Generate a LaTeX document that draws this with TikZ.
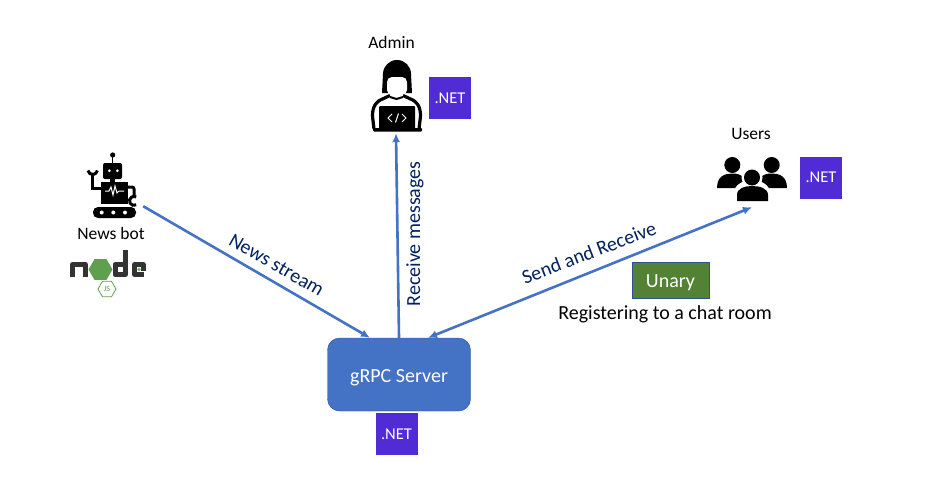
\documentclass[tikz,border=0pt]{standalone}
\usepackage{fontspec}
\setmainfont{Carlito}
\usepackage{xcolor}
\usetikzlibrary{arrows.meta,positioning,shapes.geometric}
\definecolor{flowblue}{HTML}{4472C4}
\definecolor{edgeblue}{HTML}{2F528F}
\definecolor{dotnet}{HTML}{512BD4}
\definecolor{labelnavy}{HTML}{002060}
\definecolor{unarygreen}{HTML}{548235}
\definecolor{nodegrey}{HTML}{333333}
\definecolor{nodegreen}{HTML}{5FA04E}

\begin{document}
\begin{tikzpicture}[
  x=1pt, y=-1pt,
  font=\fontsize{17.5}{19}\selectfont,
  server/.style={draw=edgeblue, fill=flowblue, rounded corners=12pt, text=white, minimum width=143pt, minimum height=73pt, inner sep=0pt, text height=15pt, text depth=0pt, font=\fontsize{20}{22}\selectfont},
  netbox/.style={fill=dotnet, text=white, minimum size=42pt, inner sep=0pt, font=\fontsize{16.5}{18}\selectfont},
  unary/.style={draw=edgeblue, fill=unarygreen, text=white, minimum width=77pt, minimum height=36pt, inner sep=0pt, text height=15pt, text depth=0pt, font=\fontsize{20}{22}\selectfont},
  icon/.style={minimum width=#1, inner sep=0pt},
  flow/.style={text=labelnavy, inner sep=0pt, font=\fontsize{20}{22}\selectfont},
  arrow/.style={-{Latex[length=9pt,width=8pt]}, line width=2.6pt, draw=flowblue}
]
  \useasboundingbox (0,0) rectangle (928,482);

  % main boxes
  \node[server] (grpc) at (399,374.5) {gRPC Server};
  \node[netbox] (netgrpc) at (396.5,434) {.NET};
  \node[netbox] (netadmin) at (450,98) {.NET};
  \node[netbox] (netusers) at (821,177.5) {.NET};
  \node[unary] (unarybox) at (670.5,280) {Unary};
  \node[inner sep=0pt, font=\fontsize{20}{22}\selectfont] (register) at (665,314) {Registering to a chat room};

  % anchors for the icons
  \node[icon=54pt, minimum height=72pt] (admin) at (396,97) {};
  \node[icon=60pt, minimum height=42pt] (bot) at (113,185) {};
  \node[icon=70pt, minimum height=46pt] (users) at (752,184) {};
  \node[inner sep=0pt] (adminlabel) at (391.5,42) {Admin};
  \node[inner sep=0pt] (botlabel) at (111,233) {News bot};
  \node[inner sep=0pt] (userslabel) at (751,134) {Users};

  % admin
  \fill (382,93) -- (383,74) arc[start angle=180, end angle=360, radius=14] -- (412,93) -- cycle;
  \fill[white, rounded corners=5pt] (387,77) rectangle (407,95);
  \draw[line width=3.2pt, rounded corners=5pt] (374,129) -- (372,112) -- (376,102) -- (390,95.5);
  \draw[line width=3.2pt, rounded corners=5pt] (419,129) -- (421,112) -- (417,102) -- (403,95.5);
  \draw[line width=2pt] (390,97) -- (396.5,99) -- (403,97);
  \fill[rounded corners=1pt] (379,106) rectangle (415,129);
  \fill[rounded corners=1pt] (373,128) rectangle (422,131.5);
  \draw[white, line width=1pt] (392,114) -- (388,118) -- (392,122) (402,114) -- (406,118) -- (402,122) (398.5,113.5) -- (395.5,122.5);

  % news bot
  \fill (112.7,155) circle (2.6);
  \draw[line width=1.4pt] (112.7,155) -- (112.7,164);
  \fill[rounded corners=2pt] (103,163) rectangle (122,179);
  \fill[white] (109.3,170.7) circle (1.5) (117.3,170.7) circle (1.5);
  \fill (110,178) rectangle (115,183);
  \fill (100.7,181.7) rectangle (127.7,204);
  \draw[white, line width=1pt] (105,191) -- (109,191) -- (111,187) -- (113,195) -- (115,186) -- (117,193) -- (119,191) -- (124,191);
  \draw[line width=3pt] (101,188) -- (92.7,188) -- (92.7,175);
  \draw[line width=3pt] (87.9,170.5) arc[start angle=170, end angle=10, radius=4.8];
  \draw[line width=3pt, rounded corners=2pt] (127,187) -- (134,187) -- (134,197);
  \draw[line width=3pt] (136.2,204.8) arc[start angle=60, end angle=300, radius=4.5];
  \fill[rounded corners=5pt] (93,207) rectangle (136,218);
  \fill[white] (101.7,212.5) circle (2) (113.3,212.5) circle (2) (125,212.5) circle (2);

  % node logo
  \draw[nodegrey, line width=5pt, line join=round] (72.5,277) -- (72.5,264.5) -- (85.5,264.5) -- (85.5,277);
  \node[regular polygon, regular polygon sides=6, fill=nodegreen, minimum size=24pt, inner sep=0pt] (nodehex) at (100.5,269.5) {};
  \draw[nodegrey, line width=5pt, line join=round] (125.5,250) -- (125.5,274.5) -- (115,274.5) -- (115,264.5) -- (125.5,264.5);
  \draw[nodegrey, line width=5pt, line join=round] (144,274.5) -- (134.5,274.5) -- (134.5,264.5) -- (143,264.5) -- (143,271);
  \fill[nodegreen] (139,269.5) circle (1.7);
  \node[regular polygon, regular polygon sides=6, draw=nodegreen, line width=0.8pt, text=nodegreen, minimum size=18pt, inner sep=0pt, font=\fontsize{8}{9}\selectfont] (jshex) at (107,289) {JS};

  % users
  \fill (732.3,165) circle (8) (771.7,165) circle (8);
  \fill (717,188) .. controls (717,176) and (725,173.5) .. (732.3,173.5) .. controls (740,173.5) and (747,176) .. (747,188) -- cycle;
  \fill (757,188) .. controls (757,176) and (764,173.5) .. (771.7,173.5) .. controls (779,173.5) and (787,176) .. (787,188) -- cycle;
  \fill[white] (752,177.5) circle (10.5);
  \fill[white] (734,201) -- (734,193) .. controls (734,185) and (743,180) .. (752,180) .. controls (761,180) and (770,185) .. (770,193) -- (770,201) -- cycle;
  \fill (752,177.5) circle (8);
  \fill (737,201) -- (737,195) .. controls (737,188) and (745,186) .. (752,186) .. controls (759,186) and (768,188) .. (768,195) -- (768,201) -- cycle;

  % connectors
  \draw[arrow] (bot.south east) -- ([xshift=-29pt]grpc.north);
  \draw[arrow] (grpc.north) -- (admin.south);
  \draw[arrow, {Latex[length=9pt,width=8pt]}-{Latex[length=9pt,width=8pt]}] ([xshift=29pt]grpc.north) -- (users.south);

  % connector labels
  \node[flow, rotate=-30] (newsflow) at (276.5,265) {News stream};
  \node[flow, rotate=90] (adminflow) at (415,234) {Receive messages};
  \node[flow, rotate=21] (usersflow) at (589,252.5) {Send and Receive};
\end{tikzpicture}
\end{document}
